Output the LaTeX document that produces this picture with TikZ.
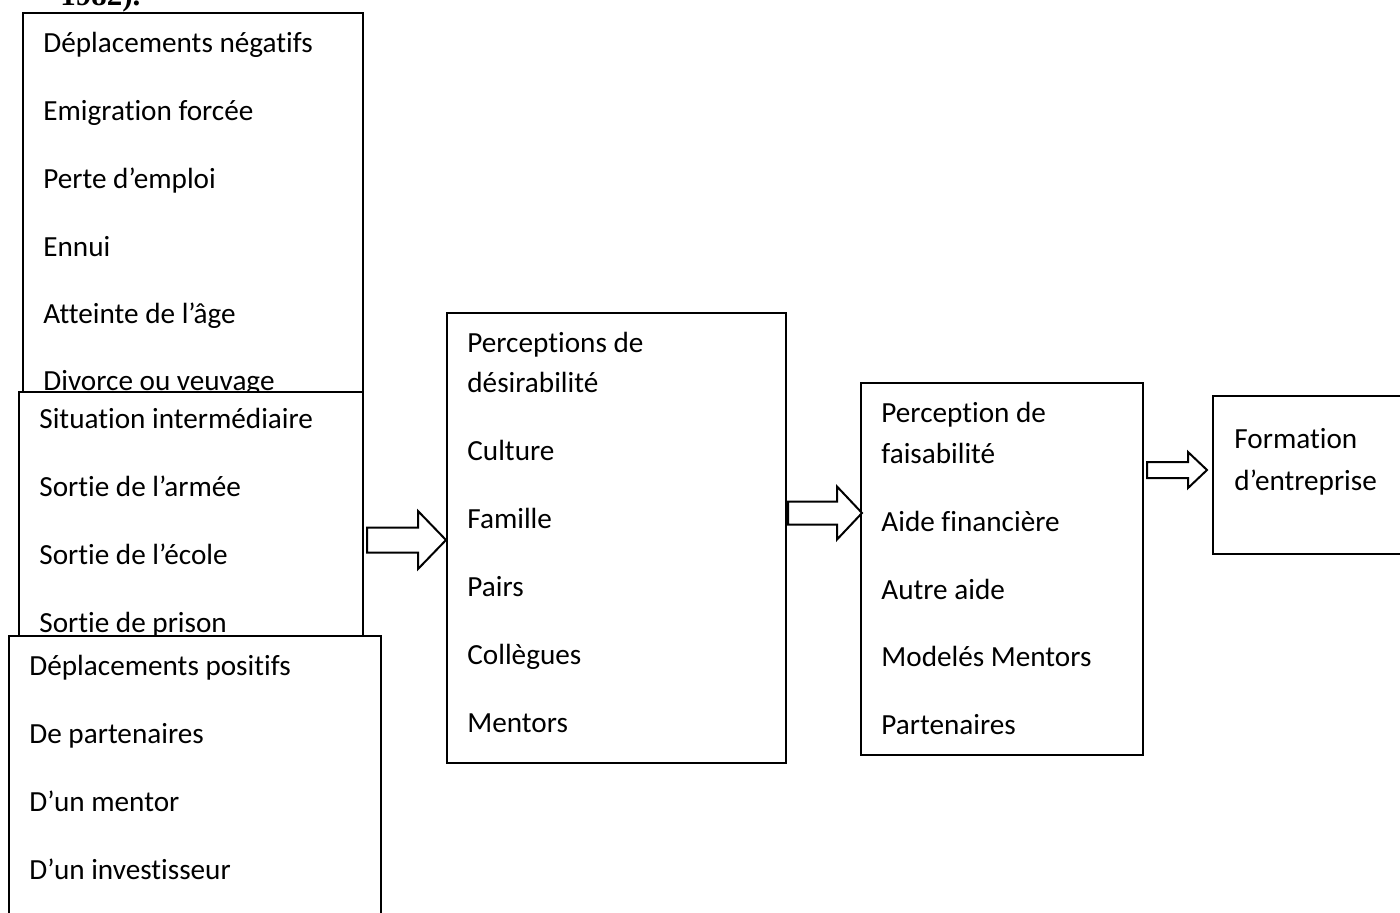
\documentclass[tikz,border=0pt]{standalone}
\usepackage{fontspec}
\setmainfont{Carlito}[Ligatures=NoCommon]
\newfontfamily\titlefont{Liberation Serif}
\usetikzlibrary{calc}

% block arrow between two named coordinates: start, tip, body half, head half, head length
\newcommand\fatarrow[5]{%
  \draw[fatarrow] ($(#1)+(0,-#3)$) -- ($(#2)+(-#5,-#3)$) -- ($(#2)+(-#5,-#4)$)
    -- (#2) -- ($(#2)+(-#5,#4)$) -- ($(#2)+(-#5,#3)$) -- ($(#1)+(0,#3)$) -- cycle;}

\tikzset{
  box/.style={draw=black, line width=1pt, fill=white, rectangle, anchor=north west, inner sep=0pt},
  item/.style={anchor=base west, inner sep=0pt, font=\fontsize{14.6}{17.5}\selectfont},
  fatarrow/.style={draw=black, line width=1pt, fill=white, line join=miter},
}

\begin{document}
\begin{tikzpicture}[x=0.5pt,y=-0.5pt]
    \useasboundingbox (0,0) rectangle (1400,912);
    \clip (0,0) rectangle (1400,912);

    \node[item, font=\titlefont\bfseries\fontsize{15.5}{18}\selectfont] (ref) at (60,5) {1982).};

    % left column: three overlapping boxes
    \node[box, minimum width=170pt, minimum height=194pt] (neg) at (22,12) {};
    \node[item] (neg1) at (43,52)  {Déplacements négatifs};
    \node[item] (neg2) at (43,120) {Emigration forcée};
    \node[item] (neg3) at (43,188) {Perte d’emploi};
    \node[item] (neg4) at (43,256) {Ennui};
    \node[item] (neg5) at (43,323) {Atteinte de l’âge};
    \node[item] (neg6) at (43,390) {Divorce ou veuvage};

    \node[box, minimum width=172pt, minimum height=125pt] (mid) at (18,391) {};
    \node[item] (mid1) at (39,428) {Situation intermédiaire};
    \node[item] (mid2) at (39,496) {Sortie de l’armée};
    \node[item] (mid3) at (39,564) {Sortie de l’école};
    \node[item] (mid4) at (39,632) {Sortie de prison};

    \node[box, minimum width=186pt, minimum height=150pt] (pos) at (8,635) {};
    \node[item] (pos1) at (29,675) {Déplacements positifs};
    \node[item] (pos2) at (29,743) {De partenaires};
    \node[item] (pos3) at (29,811) {D’un mentor};
    \node[item] (pos4) at (29,879) {D’un investisseur};

    % middle boxes
    \node[box, minimum width=169.5pt, minimum height=225pt] (desir) at (446,312) {};
    \node[item] (desir1) at (467,352) {Perceptions de};
    \node[item] (desir2) at (467,392) {désirabilité};
    \node[item] (desir3) at (467,460) {Culture};
    \node[item] (desir4) at (467,528) {Famille};
    \node[item] (desir5) at (467,596) {Pairs};
    \node[item] (desir6) at (467,664) {Collègues};
    \node[item] (desir7) at (467,732) {Mentors};

    \node[box, minimum width=141pt, minimum height=186pt] (faisab) at (860,382) {};
    \node[item] (faisab1) at (881,422) {Perception de};
    \node[item] (faisab2) at (881,463) {faisabilité};
    \node[item] (faisab3) at (881,531) {Aide financière};
    \node[item] (faisab4) at (881,599) {Autre aide};
    \node[item] (faisab5) at (881,666) {Modelés Mentors};
    \node[item] (faisab6) at (881,734) {Partenaires};

    \node[box, minimum width=100pt, minimum height=79pt] (form) at (1212,395) {};
    \node[item] (form1) at (1234,448) {Formation};
    \node[item] (form2) at (1234,490) {d’entreprise};

    % block arrows
    \path (mid.east |- 0,540) ++(3,0) coordinate (a1s);
    \path (desir.west |- a1s) coordinate (a1e);
    \fatarrow{a1s}{a1e}{12.5}{29}{28}

    \path (desir.east |- 0,513) ++(1,0) coordinate (a2s);
    \path (faisab.west |- a2s) ++(2,0) coordinate (a2e);
    \fatarrow{a2s}{a2e}{11.5}{26.5}{25}

    \path (faisab.east |- 0,470) ++(3,0) coordinate (a3s);
    \path (form.west |- a3s) ++(-5,0) coordinate (a3e);
    \fatarrow{a3s}{a3e}{8}{18}{19}
\end{tikzpicture}
\end{document}
